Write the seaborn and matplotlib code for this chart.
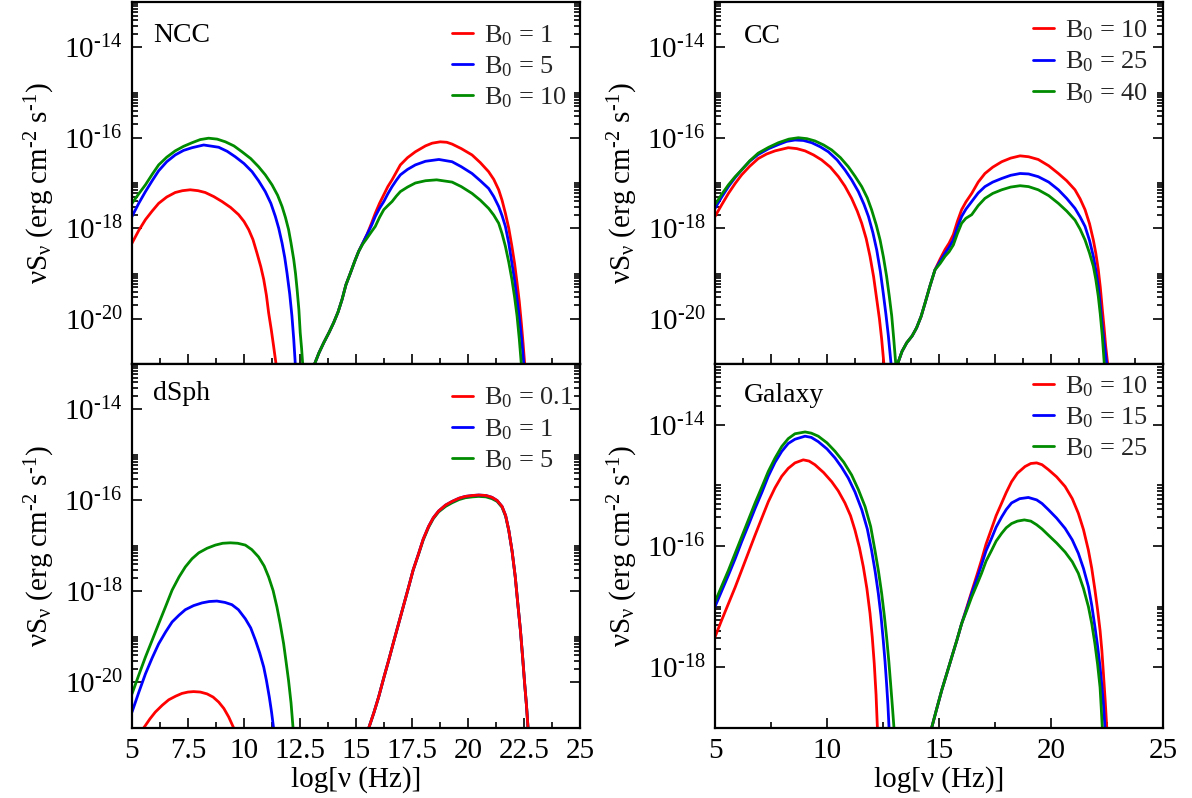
import numpy as np
import pandas as pd
import matplotlib
matplotlib.use("Agg")
import matplotlib.pyplot as plt
from matplotlib.lines import Line2D
from matplotlib.ticker import FixedLocator, NullFormatter
import seaborn as sns

# ---------------------------------------------------------------------------
# Spectral energy distributions, log10(nu S_nu) in erg cm^-2 s^-1
# against log10(nu / Hz).  "lo" = synchrotron hump, "hi" = inverse-Compton hump.
# ---------------------------------------------------------------------------

# NCC, B0 = 1, 5, 10
ncc_lo_x_1 = [5.0, 5.3, 5.6, 5.9, 6.19, 6.55, 6.93, 7.25, 7.6, 7.95, 8.27, 8.65, 9.02, 9.4, 9.76, 10.0,
              10.21, 10.4, 10.58, 10.75, 10.88, 11.0, 11.1, 11.22, 11.32, 11.43]
ncc_lo_y_1 = [-18.33, -18.05, -17.81, -17.62, -17.45, -17.31, -17.21, -17.17, -17.15, -17.17, -17.21, -17.30,
              -17.41, -17.54, -17.70, -17.85, -18.03, -18.25, -18.55, -18.85, -19.13, -19.48, -19.87, -20.25,
              -20.6, -21.0]
ncc_lo_x_5 = [5.0, 5.3, 5.6, 5.9, 6.19, 6.55, 6.93, 7.3, 7.68, 8.2, 8.87, 9.25, 9.61, 10.0, 10.36, 10.65,
              10.95, 11.2, 11.4, 11.55, 11.7, 11.82, 11.92, 12.04, 12.14, 12.22, 12.29]
ncc_lo_y_5 = [-17.74, -17.45, -17.19, -16.95, -16.73, -16.53, -16.38, -16.28, -16.22, -16.16, -16.21, -16.30,
              -16.42, -16.57, -16.75, -16.95, -17.19, -17.45, -17.74, -18.0, -18.33, -18.65, -18.99, -19.45,
              -19.94, -20.45, -21.0]
ncc_lo_x_10 = [5.0, 5.3, 5.6, 5.9, 6.19, 6.55, 6.93, 7.3, 7.68, 8.05, 8.42, 8.8, 9.17, 9.55, 9.91, 10.3,
               10.65, 10.95, 11.25, 11.5, 11.7, 11.85, 11.99, 12.1, 12.22, 12.3, 12.37, 12.45, 12.51,
               12.57, 12.62]
ncc_lo_y_10 = [-17.45, -17.24, -17.04, -16.81, -16.60, -16.43, -16.29, -16.19, -16.11, -16.04, -16.01, -16.03,
               -16.09, -16.18, -16.31, -16.46, -16.64, -16.82, -17.04, -17.27, -17.52, -17.76, -18.03,
               -18.33, -18.69, -19.0, -19.35, -19.8, -20.31, -20.65, -21.0]

ncc_hi_x_1 = [13.15, 13.35, 13.56, 13.8, 14.0, 14.2, 14.38, 14.55, 14.75, 14.95, 15.12, 15.3, 15.49, 15.7,
              15.86, 16.05, 16.24, 16.42, 16.61, 16.8, 16.98, 17.3, 17.65, 18.1, 18.4, 18.76, 19.05, 19.29,
              19.7, 20.18, 20.55, 20.92, 21.15, 21.37, 21.52, 21.67, 21.82, 21.96, 22.08, 22.19, 22.29,
              22.38, 22.46, 22.53]
ncc_hi_y_1 = [-21.0, -20.75, -20.53, -20.3, -20.09, -19.85, -19.57, -19.25, -18.99, -18.72, -18.51, -18.33,
              -18.14, -17.88, -17.67, -17.45, -17.26, -17.08, -16.93, -16.76, -16.60, -16.44, -16.31,
              -16.18, -16.12, -16.09, -16.10, -16.14, -16.24, -16.38, -16.55, -16.75, -16.92, -17.15,
              -17.38, -17.67, -18.0, -18.40, -18.78, -19.21, -19.62, -20.09, -20.55, -21.0]
ncc_hi_x_5 = [13.15, 13.35, 13.56, 13.8, 14.0, 14.2, 14.38, 14.55, 14.75, 14.95, 15.12, 15.3, 15.49, 15.7,
              15.86, 16.05, 16.24, 16.42, 16.61, 16.8, 16.98, 17.3, 17.65, 18.1, 18.7, 19.29, 19.7, 20.18,
              20.55, 20.92, 21.15, 21.37, 21.52, 21.67, 21.82, 21.96, 22.08, 22.19, 22.29, 22.38, 22.44,
              22.49]
ncc_hi_y_5 = [-21.0, -20.75, -20.53, -20.3, -20.09, -19.85, -19.57, -19.25, -18.99, -18.72, -18.51, -18.33,
              -18.14, -17.93, -17.74, -17.56, -17.41, -17.24, -17.08, -16.94, -16.82, -16.70, -16.60,
              -16.52, -16.48, -16.53, -16.64, -16.79, -16.95, -17.12, -17.30, -17.52, -17.72, -17.96,
              -18.33, -18.77, -19.15, -19.57, -19.97, -20.38, -20.7, -21.0]
ncc_hi_x_10 = [13.15, 13.35, 13.56, 13.8, 14.0, 14.2, 14.38, 14.55, 14.75, 14.95, 15.12, 15.3, 15.49, 15.7,
               15.86, 16.05, 16.24, 16.42, 16.61, 16.8, 16.98, 17.3, 17.65, 18.1, 18.6, 19.29, 19.7, 20.18,
               20.55, 20.92, 21.15, 21.37, 21.52, 21.67, 21.82, 21.96, 22.08, 22.19, 22.29, 22.38]
ncc_hi_y_10 = [-21.0, -20.75, -20.53, -20.3, -20.09, -19.85, -19.57, -19.25, -18.99, -18.72, -18.51, -18.35,
               -18.22, -18.07, -17.96, -17.76, -17.59, -17.50, -17.41, -17.29, -17.19, -17.09, -17.0,
               -16.95, -16.93, -16.98, -17.08, -17.23, -17.38, -17.56, -17.71, -17.89, -18.12, -18.40,
               -18.75, -19.13, -19.52, -19.94, -20.45, -21.0]

# CC, B0 = 10, 25, 40
cc_lo_x_10 = [5.0, 5.3, 5.6, 5.9, 6.19, 6.55, 6.93, 7.3, 7.68, 8.27, 8.65, 9.02, 9.4, 9.76, 10.15, 10.51,
              10.8, 11.1, 11.35, 11.55, 11.75, 11.92, 12.08, 12.22, 12.34, 12.44, 12.54]
cc_lo_y_10 = [-17.74, -17.48, -17.23, -17.01, -16.82, -16.63, -16.46, -16.36, -16.29, -16.22, -16.24, -16.29,
              -16.38, -16.49, -16.65, -16.86, -17.07, -17.34, -17.62, -17.89, -18.23, -18.62, -19.07,
              -19.57, -20.0, -20.45, -21.0]
cc_lo_x_25 = [5.0, 5.3, 5.6, 5.9, 6.19, 6.55, 6.93, 7.4, 7.83, 8.2, 8.57, 8.95, 9.32, 9.7, 10.06, 10.45,
              10.8, 11.1, 11.4, 11.65, 11.85, 12.05, 12.22, 12.38, 12.51, 12.63, 12.74, 12.86]
cc_lo_y_25 = [-17.56, -17.31, -17.08, -16.88, -16.71, -16.52, -16.37, -16.24, -16.15, -16.08, -16.05, -16.06,
              -16.11, -16.20, -16.31, -16.49, -16.71, -16.93, -17.19, -17.47, -17.74, -18.1, -18.48,
              -18.95, -19.43, -19.9, -20.38, -21.0]
cc_lo_x_40 = [5.0, 5.3, 5.6, 5.9, 6.19, 6.55, 6.93, 7.4, 7.83, 8.3, 8.72, 9.1, 9.46, 9.85, 10.21, 10.6,
              10.95, 11.25, 11.55, 11.8, 11.99, 12.2, 12.37, 12.52, 12.66, 12.78, 12.89, 12.98, 13.07]
cc_lo_y_40 = [-17.48, -17.25, -17.04, -16.86, -16.71, -16.51, -16.34, -16.21, -16.11, -16.03, -16.0, -16.02,
              -16.07, -16.16, -16.27, -16.44, -16.64, -16.85, -17.08, -17.33, -17.59, -17.93, -18.26,
              -18.64, -19.06, -19.5, -19.94, -20.45, -21.0]

cc_hi_x = [13.15, 13.35, 13.56, 13.8, 14.0, 14.2, 14.38, 14.6, 14.82, 15.05, 15.27, 15.45, 15.64, 15.82,
           16.01, 16.2, 16.46, 16.75, 17.05, 17.4, 17.80, 18.2, 18.62, 19.0, 19.43, 19.9, 20.33, 20.7,
           21.07, 21.3, 21.52, 21.72, 21.89, 22.0, 22.11, 22.2, 22.29]
cc_hi_y_10 = [-21.0, -20.72, -20.53, -20.38, -20.2, -19.95, -19.65, -19.27, -18.92, -18.68, -18.47, -18.33,
              -18.14, -17.85, -17.59, -17.42, -17.23, -16.98, -16.79, -16.65, -16.53, -16.45, -16.40,
              -16.42, -16.48, -16.62, -16.79, -16.95, -17.15, -17.35, -17.59, -17.9, -18.26, -18.55,
              -18.91, -19.3, -19.79]
cc_hi_y_25 = [-21.0, -20.72, -20.53, -20.38, -20.2, -19.95, -19.65, -19.27, -18.92, -18.73, -18.55, -18.42,
              -18.26, -17.98, -17.74, -17.58, -17.41, -17.22, -17.08, -16.98, -16.90, -16.83, -16.79,
              -16.80, -16.86, -16.98, -17.15, -17.34, -17.56, -17.75, -17.96, -18.27, -18.62, -18.92,
              -19.28, -19.7, -20.16]
cc_hi_y_40 = [-21.0, -20.72, -20.53, -20.38, -20.2, -19.95, -19.65, -19.27, -18.92, -18.78, -18.62, -18.52,
              -18.37, -18.12, -17.89, -17.78, -17.70, -17.50, -17.34, -17.23, -17.15, -17.09, -17.06,
              -17.08, -17.15, -17.28, -17.45, -17.62, -17.82, -18.02, -18.26, -18.55, -18.84, -19.13,
              -19.50, -19.9, -20.38]
# steep cut-off beyond 22.29
cc_tail_x_10 = [22.29, 22.37, 22.44, 22.53]
cc_tail_y_10 = [-19.79, -20.2, -20.6, -21.0]
cc_tail_x_25 = [22.29, 22.38, 22.49]
cc_tail_y_25 = [-20.16, -20.55, -21.0]
cc_tail_x_40 = [22.29, 22.38]
cc_tail_y_40 = [-20.38, -21.0]

# dSph, B0 = 0.1, 1, 5
ds_lo_x_01 = [5.52, 5.8, 6.04, 6.35, 6.64, 6.95, 7.23, 7.5, 7.75, 8.05, 8.35, 8.62, 8.87, 9.1, 9.32, 9.54]
ds_lo_y_01 = [-21.0, -20.8, -20.65, -20.50, -20.38, -20.30, -20.24, -20.21, -20.20, -20.21, -20.25, -20.32,
              -20.43, -20.57, -20.76, -21.0]
ds_lo_x_1 = [5.0, 5.3, 5.6, 5.9, 6.19, 6.5, 6.79, 7.1, 7.38, 7.75, 8.13, 8.45, 8.79, 9.15, 9.46, 9.75,
             10.06, 10.3, 10.51, 10.7, 10.88, 11.0, 11.13, 11.23, 11.32]
ds_lo_y_1 = [-20.65, -20.22, -19.81, -19.46, -19.15, -18.89, -18.67, -18.52, -18.40, -18.31, -18.25, -18.22,
             -18.21, -18.24, -18.29, -18.40, -18.60, -18.80, -19.07, -19.35, -19.66, -19.95, -20.32, -20.65,
             -21.0]
ds_lo_x_5 = [5.0, 5.3, 5.6, 5.9, 6.19, 6.5, 6.79, 7.1, 7.38, 7.68, 7.98, 8.35, 8.72, 9.05, 9.39, 9.72,
             10.06, 10.35, 10.65, 10.9, 11.1, 11.3, 11.47, 11.62, 11.77, 11.88, 11.99, 12.1, 12.19]
ds_lo_y_5 = [-20.25, -19.84, -19.44, -19.07, -18.71, -18.33, -17.97, -17.68, -17.46, -17.28, -17.15, -17.05,
             -16.98, -16.94, -16.93, -16.94, -16.98, -17.08, -17.24, -17.44, -17.68, -17.98, -18.34,
             -18.72, -19.15, -19.55, -19.96, -20.45, -21.0]

ds_hi_x = [15.57, 15.8, 16.01, 16.25, 16.46, 16.7, 16.90, 17.1, 17.35, 17.55, 17.80, 18.0, 18.24, 18.45,
           18.69, 19.0, 19.29, 19.6, 19.88, 20.2, 20.48, 20.8, 21.07, 21.3, 21.52, 21.68, 21.82, 21.97,
           22.11, 22.22, 22.34, 22.44, 22.53, 22.61, 22.68]
ds_hi_y_01 = [-21.0, -20.66, -20.32, -19.88, -19.51, -19.07, -18.71, -18.35, -17.90, -17.53, -17.16, -16.85,
              -16.57, -16.38, -16.23, -16.10, -16.02, -15.95, -15.91, -15.89, -15.88, -15.89, -15.93,
              -16.0, -16.13, -16.33, -16.65, -17.12, -17.68, -18.25, -18.85, -19.45, -20.03, -20.5, -21.0]
ds_hi_y_1 = [-21.0, -20.66, -20.32, -19.88, -19.51, -19.07, -18.71, -18.35, -17.90, -17.53, -17.16, -16.85,
             -16.57, -16.38, -16.23, -16.10, -16.02, -15.95, -15.91, -15.89, -15.88, -15.89, -15.93,
             -16.0, -16.13, -16.33, -16.65, -17.12, -17.68, -18.25, -18.85, -19.45, -20.03, -20.5, -21.0]
ds_hi_y_5 = [-21.0, -20.66, -20.32, -19.88, -19.51, -19.07, -18.71, -18.35, -17.90, -17.53, -17.17, -16.87,
             -16.59, -16.40, -16.25, -16.13, -16.05, -15.98, -15.94, -15.92, -15.91, -15.92, -15.96,
             -16.02, -16.15, -16.35, -16.66, -17.12, -17.68, -18.25, -18.85, -19.45, -20.03, -20.5, -21.0]

# Galaxy, B0 = 10, 15, 25
gx_lo_x_10 = [5.0, 5.3, 5.6, 5.9, 6.19, 6.5, 6.79, 7.1, 7.38, 7.68, 7.98, 8.27, 8.57, 8.94, 9.2, 9.46,
              9.85, 10.21, 10.5, 10.8, 11.05, 11.25, 11.45, 11.62, 11.78, 11.92, 12.02, 12.11, 12.19, 12.25]
gx_lo_y_10 = [-17.50, -17.22, -16.95, -16.68, -16.40, -16.10, -15.82, -15.53, -15.27, -15.04, -14.85, -14.72,
              -14.63, -14.58, -14.60, -14.66, -14.79, -14.94, -15.09, -15.29, -15.50, -15.74, -16.03,
              -16.34, -16.70, -17.11, -17.50, -17.94, -18.45, -19.0]
gx_lo_x_15 = [5.0, 5.3, 5.6, 5.9, 6.19, 6.5, 6.79, 7.1, 7.38, 7.68, 7.98, 8.27, 8.57, 9.02, 9.3, 9.61,
              10.0, 10.36, 10.65, 10.95, 11.25, 11.55, 11.8, 11.99, 12.15, 12.29, 12.41, 12.51, 12.59,
              12.66, 12.72, 12.77]
gx_lo_y_15 = [-17.0, -16.74, -16.48, -16.21, -15.93, -15.65, -15.38, -15.11, -14.85, -14.62, -14.44, -14.31,
              -14.24, -14.19, -14.21, -14.28, -14.40, -14.55, -14.70, -14.88, -15.11, -15.40, -15.72,
              -16.07, -16.42, -16.78, -17.15, -17.55, -17.9, -18.27, -18.62, -19.0]
gx_lo_x_25 = [5.0, 5.3, 5.6, 5.9, 6.19, 6.5, 6.79, 7.1, 7.38, 7.68, 7.98, 8.27, 8.57, 9.02, 9.3, 9.61,
              10.0, 10.36, 10.75, 11.1, 11.4, 11.7, 11.95, 12.14, 12.3, 12.44, 12.56, 12.66, 12.76, 12.84,
              12.92, 12.99]
gx_lo_y_25 = [-16.92, -16.66, -16.40, -16.12, -15.85, -15.56, -15.29, -15.02, -14.77, -14.55, -14.36, -14.23,
              -14.15, -14.12, -14.14, -14.19, -14.30, -14.44, -14.62, -14.83, -15.07, -15.35, -15.68,
              -16.07, -16.42, -16.78, -17.15, -17.50, -17.9, -18.27, -18.65, -19.0]

gx_hi_x_10 = [14.67, 14.9, 15.12, 15.35, 15.57, 15.8, 16.01, 16.25, 16.46, 16.7, 16.90, 17.1, 17.35, 17.55,
              17.80, 18.0, 18.24, 18.5, 18.84, 19.1, 19.36, 19.6, 19.88, 20.25, 20.63, 20.95, 21.22,
              21.45, 21.67, 21.82, 21.96, 22.08, 22.19, 22.27, 22.34, 22.42, 22.49]
gx_hi_y_10 = [-19.0, -18.68, -18.38, -18.10, -17.83, -17.55, -17.28, -17.0, -16.75, -16.47, -16.23, -15.97,
              -15.71, -15.50, -15.29, -15.12, -14.94, -14.80, -14.69, -14.64, -14.63, -14.66, -14.74,
              -14.86, -15.02, -15.22, -15.46, -15.73, -16.07, -16.37, -16.72, -17.05, -17.39, -17.72,
              -18.10, -18.55, -19.0]
gx_hi_x_15 = [14.67, 14.9, 15.12, 15.35, 15.57, 15.8, 16.01, 16.25, 16.46, 16.7, 16.90, 17.1, 17.35, 17.55,
              17.80, 18.0, 18.24, 18.6, 18.99, 19.36, 19.6, 19.88, 20.25, 20.63, 20.95, 21.22, 21.45,
              21.67, 21.82, 21.96, 22.08, 22.19, 22.27, 22.34, 22.41]
gx_hi_y_15 = [-19.0, -18.68, -18.38, -18.10, -17.83, -17.55, -17.28, -17.02, -16.78, -16.53, -16.31, -16.08,
              -15.87, -15.69, -15.52, -15.40, -15.29, -15.22, -15.20, -15.24, -15.30, -15.40, -15.54,
              -15.71, -15.90, -16.12, -16.37, -16.67, -16.98, -17.33, -17.65, -17.99, -18.30, -18.60,
              -19.0]
gx_hi_x_25 = [14.67, 14.9, 15.12, 15.35, 15.57, 15.8, 16.01, 16.25, 16.46, 16.7, 16.90, 17.1, 17.35, 17.55,
              17.80, 18.0, 18.24, 18.5, 18.81, 19.1, 19.36, 19.6, 19.88, 20.25, 20.63, 20.95, 21.22,
              21.45, 21.67, 21.82, 21.96, 22.08, 22.19, 22.24, 22.29]
gx_hi_y_25 = [-19.0, -18.68, -18.38, -18.10, -17.83, -17.55, -17.28, -17.05, -16.84, -16.63, -16.45, -16.25,
              -16.07, -15.92, -15.79, -15.70, -15.63, -15.59, -15.57, -15.59, -15.65, -15.72, -15.82,
              -15.95, -16.10, -16.26, -16.45, -16.70, -17.0, -17.28, -17.61, -17.95, -18.33, -18.65,
              -19.0]

# Legend entries and panel names
ncc_labels = ["B$_0$ = 1", "B$_0$ = 5", "B$_0$ = 10"]
cc_labels = ["B$_0$ = 10", "B$_0$ = 25", "B$_0$ = 40"]
ds_labels = ["B$_0$ = 0.1", "B$_0$ = 1", "B$_0$ = 5"]
gx_labels = ["B$_0$ = 10", "B$_0$ = 15", "B$_0$ = 25"]
panel_names = ["NCC", "CC", "dSph", "Galaxy"]

# Axis ticks
xticks_fine = [5, 7.5, 10, 12.5, 15, 17.5, 20, 22.5, 25]
xticks_fine_labels = ["5", "7.5", "10", "12.5", "15", "17.5", "20", "22.5", "25"]
xticks_coarse = [5, 10, 15, 20, 25]
xticks_coarse_labels = ["5", "10", "15", "20", "25"]
yexp_wide = [-20, -18, -16, -14]
yexp_galaxy = [-18, -16, -14]

COLORS = ["#ff0000", "#0000ff", "#008b00"]
HYPHEN = "\u2010"

# ---------------------------------------------------------------------------
sns.set_style("ticks")
plt.rcParams.update({
    "font.family": ["Liberation Serif", "DejaVu Serif"],
    "mathtext.fontset": "custom",
    "mathtext.rm": "Liberation Serif",
    "mathtext.it": "Liberation Serif:italic",
    "mathtext.bf": "Liberation Serif:bold",
    "mathtext.default": "regular",
    "axes.linewidth": 1.6,
    "axes.edgecolor": "black",
    "axes.facecolor": "white",
    "figure.facecolor": "white",
})


def build_frame(labels, curves):
    rows = []
    for lab, segs in zip(labels, curves):
        for k, (xs, ys) in enumerate(segs):
            for xv, yv in zip(xs, ys):
                rows.append({"log_nu": xv, "flux": 10.0 ** yv, "B0": lab, "seg": k})
    return pd.DataFrame(rows)


def exp_label(e):
    return r"$10^{%s%d}$" % (HYPHEN if e < 0 else "", abs(e))


def style_axes(ax, ylim, yexp, xticks, xlabels, show_xlabels, name, name_x, name_y,
               labels, legend_xy):
    ax.set_xlim(5, 25)
    ax.set_ylim(10.0 ** ylim[0], 10.0 ** ylim[1])
    # x ticks
    ax.xaxis.set_major_locator(FixedLocator(xticks))
    step = xticks[1] - xticks[0]
    ax.xaxis.set_minor_locator(FixedLocator([t + step / 2 for t in xticks[:-1]]))
    ax.xaxis.set_minor_formatter(NullFormatter())
    if show_xlabels:
        ax.set_xticklabels(xlabels)
    else:
        ax.set_xticklabels([])
    # y ticks: labelled every second decade, sub-ticks in the even decades
    ax.yaxis.set_major_locator(FixedLocator([10.0 ** e for e in yexp]))
    ax.set_yticklabels([exp_label(e) for e in yexp])
    minors = []
    for e in range(yexp[0] - 2, yexp[-1] + 1, 2):
        for k in range(2, 11):
            v = k * 10.0 ** e
            if 10.0 ** ylim[0] * 0.999 <= v <= 10.0 ** ylim[1] * 1.001:
                minors.append(v)
    ax.yaxis.set_minor_locator(FixedLocator(minors))
    ax.yaxis.set_minor_formatter(NullFormatter())

    ax.tick_params(which="both", direction="in", top=False, right=True,
                   left=True, bottom=True, color="black", width=1.2,
                   labelsize=21, pad=7, labelcolor="black")
    ax.tick_params(which="major", length=7.5)
    ax.tick_params(which="minor", length=4.5)
    for s in ax.spines.values():
        s.set_visible(True)
        s.set_color("black")
        s.set_linewidth(1.6)

    ax.set_ylabel("νS$_{ν}$ (erg cm$^{%s2}$ s$^{%s1}$)" % (HYPHEN, HYPHEN),
                  fontsize=21, color="black")
    ax.yaxis.set_label_coords(-0.167, 0.5)
    if show_xlabels:
        ax.set_xlabel("log[ν (Hz)]", fontsize=21, color="black")
        ax.xaxis.set_label_coords(0.5, -0.105)
    else:
        ax.set_xlabel("")

    ax.text(name_x, name_y, name, transform=ax.transAxes, fontsize=20,
            ha="left", va="baseline", color="black")

    handles = [Line2D([], [], color=c, lw=2.0) for c in COLORS]
    ax.legend(handles, labels, loc="upper left", bbox_to_anchor=legend_xy,
              frameon=False, fontsize=19, handlelength=0.8, handletextpad=0.4,
              labelspacing=0.25, borderpad=0.0, borderaxespad=0.0)


def draw(ax, labels, curves, draw_order):
    ax.set_yscale("log")
    df = build_frame(labels, curves)
    hue_order = [labels[i] for i in draw_order]
    palette = {labels[i]: COLORS[i] for i in range(3)}
    sns.lineplot(data=df, x="log_nu", y="flux", hue="B0", units="seg",
                 estimator=None, sort=False, hue_order=hue_order,
                 palette=palette, linewidth=2.0, legend=False, ax=ax,
                 solid_joinstyle="round")


fig = plt.figure(figsize=(11.92, 7.98), dpi=100)
W, H = 1192.0, 798.0
left_x, right_x, pw = 132 / W, 715 / W, 448 / W
top_b, top_h = 1 - 364 / H, 362 / H
bot_b, bot_h = 1 - 728 / H, 364 / H

ax_ncc = fig.add_axes([left_x, top_b, pw, top_h])
ax_cc = fig.add_axes([right_x, top_b, pw, top_h])
ax_ds = fig.add_axes([left_x, bot_b, pw, bot_h])
ax_gx = fig.add_axes([right_x, bot_b, pw, bot_h])

# NCC
draw(ax_ncc, ncc_labels,
     [[(ncc_lo_x_1, ncc_lo_y_1), (ncc_hi_x_1, ncc_hi_y_1)],
      [(ncc_lo_x_5, ncc_lo_y_5), (ncc_hi_x_5, ncc_hi_y_5)],
      [(ncc_lo_x_10, ncc_lo_y_10), (ncc_hi_x_10, ncc_hi_y_10)]],
     [0, 1, 2])
style_axes(ax_ncc, (-21, -13), yexp_wide, xticks_fine, xticks_fine_labels, False,
           panel_names[0], 0.047, 0.889, ncc_labels, (0.714, 0.942))

# CC
draw(ax_cc, cc_labels,
     [[(cc_lo_x_10, cc_lo_y_10), (cc_hi_x + cc_tail_x_10[1:], cc_hi_y_10 + cc_tail_y_10[1:])],
      [(cc_lo_x_25, cc_lo_y_25), (cc_hi_x + cc_tail_x_25[1:], cc_hi_y_25 + cc_tail_y_25[1:])],
      [(cc_lo_x_40, cc_lo_y_40), (cc_hi_x + cc_tail_x_40[1:], cc_hi_y_40 + cc_tail_y_40[1:])]],
     [0, 1, 2])
style_axes(ax_cc, (-21, -13), yexp_wide, xticks_fine, xticks_fine_labels, False,
           panel_names[1], 0.065, 0.886, cc_labels, (0.71, 0.954))

# dSph
draw(ax_ds, ds_labels,
     [[(ds_lo_x_01, ds_lo_y_01), (ds_hi_x, ds_hi_y_01)],
      [(ds_lo_x_1, ds_lo_y_1), (ds_hi_x, ds_hi_y_1)],
      [(ds_lo_x_5, ds_lo_y_5), (ds_hi_x, ds_hi_y_5)]],
     [2, 1, 0])
style_axes(ax_ds, (-21, -13), yexp_wide, xticks_fine, xticks_fine_labels, True,
           panel_names[2], 0.047, 0.901, ds_labels, (0.714, 0.94))

# Galaxy
draw(ax_gx, gx_labels,
     [[(gx_lo_x_10, gx_lo_y_10), (gx_hi_x_10, gx_hi_y_10)],
      [(gx_lo_x_15, gx_lo_y_15), (gx_hi_x_15, gx_hi_y_15)],
      [(gx_lo_x_25, gx_lo_y_25), (gx_hi_x_25, gx_hi_y_25)]],
     [0, 1, 2])
style_axes(ax_gx, (-19, -13), yexp_galaxy, xticks_coarse, xticks_coarse_labels, True,
           panel_names[3], 0.065, 0.896, gx_labels, (0.71, 0.972))

fig.savefig("out.png", dpi=100)
